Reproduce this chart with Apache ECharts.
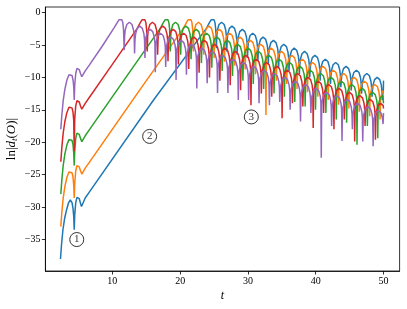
<!DOCTYPE html>
<html><head><meta charset="utf-8">
<script src="https://cdn.jsdelivr.net/npm/echarts@6/dist/echarts.min.js"></script>
<style>html,body{margin:0;padding:0;background:#fff}#c{width:407px;height:309px}</style>
</head><body><div id="c"></div>
<script>
// ---- data ----
const xTicks = [10, 20, 30, 40, 50];
const yTicks = [-35, -30, -25, -20, -15, -10, -5, 0];
const seriesNames = ['blue', 'orange', 'green', 'red', 'purple'];

// early part (t <= first saturation peak), [t, ln|d|]
const purplePre = [[2.4,-18.0],[2.55,-15.8],[2.75,-13.6],[3.0,-11.8],[3.3,-10.4],[3.6,-9.6],[3.85,-9.4],[4.05,-9.7],[4.2,-10.4],[4.3,-11.4],[4.38,-13.5],[4.45,-11.2],[4.6,-9.4],[4.78,-8.6],[4.95,-8.5],[5.12,-8.8],[5.3,-9.4],[5.5,-9.9],[5.7,-9.7],[6.0,-9.0],[6.6,-8.1],[8.5,-5.2],[10.3,-2.3],[10.7,-1.6],[11.0,-1.1],[11.2,-0.95],[11.4,-1.1],[11.55,-1.6],[11.65,-2.6]];
const redPre = [[2.4,-23.0],[2.55,-20.8],[2.75,-18.6],[3.0,-16.8],[3.3,-15.4],[3.6,-14.6],[3.85,-14.4],[4.05,-14.7],[4.2,-15.4],[4.3,-16.6],[4.38,-21.4],[4.45,-16.4],[4.6,-14.4],[4.78,-13.6],[4.95,-13.5],[5.12,-13.8],[5.3,-14.4],[5.5,-14.9],[5.7,-14.7],[6.0,-14.0],[6.6,-13.1],[10.0,-8.0],[13.7,-2.4],[14.1,-1.6],[14.4,-1.1],[14.6,-0.95],[14.8,-1.1],[14.95,-1.6],[15.05,-2.6]];
const greenPre = [[2.4,-28.0],[2.55,-25.8],[2.75,-23.6],[3.0,-21.8],[3.3,-20.4],[3.6,-19.6],[3.85,-19.4],[4.05,-19.7],[4.2,-20.4],[4.3,-21.6],[4.38,-23.6],[4.45,-21.4],[4.6,-19.4],[4.78,-18.6],[4.95,-18.5],[5.12,-18.8],[5.3,-19.4],[5.5,-19.9],[5.7,-19.7],[6.0,-19.0],[6.6,-18.1],[12.0,-10.0],[17.1,-2.4],[17.5,-1.6],[17.8,-1.1],[18.0,-0.95],[18.2,-1.1],[18.35,-1.6],[18.45,-2.6]];
const orangePre = [[2.4,-33.0],[2.55,-30.8],[2.75,-28.6],[3.0,-26.8],[3.3,-25.4],[3.6,-24.6],[3.85,-24.4],[4.05,-24.7],[4.2,-25.4],[4.3,-26.6],[4.38,-28.6],[4.45,-26.4],[4.6,-24.4],[4.78,-23.6],[4.95,-23.5],[5.12,-23.8],[5.3,-24.4],[5.5,-24.9],[5.7,-24.7],[6.0,-24.0],[6.6,-23.1],[14.0,-12.0],[20.5,-2.4],[20.9,-1.6],[21.2,-1.1],[21.4,-0.95],[21.6,-1.1],[21.75,-1.6],[21.85,-2.6]];
const bluePre = [[2.35,-38.0],[2.5,-35.8],[2.7,-33.6],[2.95,-31.8],[3.25,-30.4],[3.55,-29.3],[3.8,-28.9],[4.05,-29.3],[4.2,-30.2],[4.3,-31.4],[4.38,-33.5],[4.45,-31.2],[4.6,-29.3],[4.78,-28.5],[4.95,-28.4],[5.12,-28.7],[5.3,-29.4],[5.45,-29.9],[5.65,-29.6],[6.0,-28.6],[6.6,-27.7],[16.0,-13.6],[23.9,-2.4],[24.3,-1.6],[24.6,-1.1],[24.8,-0.95],[25.0,-1.1],[25.15,-1.6],[25.25,-2.6]];

// oscillating part: dip times, dip bottoms, arc tops (one per arc after each dip), value at t = 50
const purpleDipT = [11.75,13.28,14.81,16.34,17.87,19.40,20.93,22.46,23.99,25.52,27.05,28.58,30.11,31.64,33.17,34.70,36.23,37.76,39.29,40.82,42.35,43.88,45.41,46.94,48.47];
const purpleDipY = [-5.8,-6.3,-7.0,-9.2,-8.4,-10.4,-9.6,-11.7,-10.9,-12.4,-12.4,-13.5,-13.5,-14.0,-14.3,-13.8,-15.0,-16.8,-15.5,-22.4,-17.5,-19.8,-18.0,-19.9,-20.6];
const purpleTop  = [-1.5,-2.1,-2.6,-3.2,-3.8,-4.3,-4.9,-5.5,-6.0,-6.6,-7.2,-7.7,-8.3,-8.9,-9.4,-10.0,-10.6,-11.1,-11.7,-12.3,-12.8,-13.4,-14.0,-14.5,-15.1];
const purpleEnd = -15.5;

const redDipT = [15.15,16.68,18.21,19.74,21.27,22.80,24.33,25.86,27.39,28.92,30.45,31.98,33.51,35.04,36.57,38.10,39.63,41.16,42.69,44.22,45.75,47.28,48.81];
const redDipY = [-6.0,-6.5,-7.5,-8.0,-8.7,-9.3,-10.0,-10.5,-11.2,-12.0,-14.3,-12.5,-13.0,-16.3,-14.0,-14.5,-17.8,-15.5,-18.0,-16.5,-19.9,-17.5,-19.6];
const redTop  = [-1.5,-2.1,-2.6,-3.2,-3.8,-4.3,-4.9,-5.5,-6.0,-6.6,-7.2,-7.7,-8.3,-8.9,-9.4,-10.0,-10.6,-11.1,-11.7,-12.3,-12.8,-13.4,-14.0];
const redEnd = -14.8;

const greenDipT = [18.55,20.08,21.61,23.14,24.67,26.20,27.73,29.26,30.79,32.32,33.85,35.38,36.91,38.44,39.97,41.50,43.03,44.56,46.09,47.62,49.15];
const greenDipY = [-6.0,-6.5,-7.2,-7.8,-8.5,-9.0,-9.8,-10.5,-11.0,-11.8,-12.5,-13.0,-13.8,-14.5,-15.0,-15.5,-16.5,-17.0,-20.4,-17.5,-19.4];
const greenTop  = [-1.5,-2.1,-2.6,-3.2,-3.8,-4.3,-4.9,-5.5,-6.0,-6.6,-7.2,-7.7,-8.3,-8.9,-9.4,-10.0,-10.6,-11.1,-11.7,-12.3,-12.8];
const greenEnd = -14.0;

const orangeDipT = [21.95,23.48,25.01,26.54,28.07,29.60,31.13,32.66,34.19,35.72,37.25,38.78,40.31,41.84,43.37,44.90,46.43,47.96,49.49];
const orangeDipY = [-6.0,-6.5,-7.0,-7.6,-8.2,-8.8,-9.5,-15.8,-10.5,-11.0,-11.8,-12.3,-13.0,-13.5,-14.2,-14.8,-15.3,-16.0,-16.5];
const orangeTop  = [-1.5,-2.1,-2.6,-3.2,-3.8,-4.3,-4.9,-5.5,-6.0,-6.6,-7.2,-7.7,-8.3,-8.9,-9.4,-10.0,-10.6,-11.1,-11.7];
const orangeEnd = -12.3;

const blueDipT = [25.35,26.88,28.41,29.94,31.47,33.00,34.53,36.06,37.59,39.12,40.65,42.18,43.71,45.24,46.77,48.30,49.83];
const blueDipY = [-5.5,-6.0,-6.5,-7.0,-7.5,-8.0,-8.5,-9.0,-9.5,-10.0,-10.5,-11.0,-11.5,-12.0,-12.5,-13.0,-13.5];
const blueTop  = [-1.5,-2.1,-2.6,-3.2,-3.8,-4.3,-4.9,-5.5,-6.0,-6.6,-7.2,-7.7,-8.3,-8.9,-9.4,-10.0,-10.6];
const blueEnd = -10.5;

// annotation markers
const marks = [[4.75,-35.0,'1'],[15.5,-19.1,'2'],[30.5,-16.1,'3']];

// ---- drawing helpers (arc shape between two dips) ----
const ARC_F = [0.04, 0.1, 0.25, 0.5, 0.75, 0.9, 0.96];
const ARC_D = [-2.1, -1.2, -0.35, 0, -0.35, -1.2, -2.1];
const T_END = 50;

function build(pre, dipT, dipY, top, endY) {
  const pts = pre.map(p => [p[0], p[1]]);
  for (let i = 0; i < dipT.length; i++) {
    pts.push([dipT[i], dipY[i]]);
    const a = dipT[i];
    const w = (i + 1 < dipT.length) ? dipT[i + 1] - a : dipT[i] - dipT[i - 1];
    for (let j = 0; j < ARC_F.length; j++) {
      const t = a + ARC_F[j] * w;
      if (t >= T_END) break;
      pts.push([t, top[i] + ARC_D[j]]);
    }
  }
  pts.push([T_END, endY]);
  return pts;
}

const curves = {
  blue:   build(bluePre, blueDipT, blueDipY, blueTop, blueEnd),
  orange: build(orangePre, orangeDipT, orangeDipY, orangeTop, orangeEnd),
  green:  build(greenPre, greenDipT, greenDipY, greenTop, greenEnd),
  red:    build(redPre, redDipT, redDipY, redTop, redEnd),
  purple: build(purplePre, purpleDipT, purpleDipY, purpleTop, purpleEnd)
};
const colors = { blue:'#1f77b4', orange:'#ff7f0e', green:'#2ca02c', red:'#d62728', purple:'#9467bd' };

const FONT = "'Liberation Serif','DejaVu Serif',serif";
const fmt = v => (v < 0 ? '\u2212' + Math.abs(v) : String(v));

const chart = echarts.init(document.getElementById('c'), null, { renderer: 'canvas' });
const series = seriesNames.map(n => ({
  type: 'line', name: n, data: curves[n], showSymbol: false, symbol: 'none',
  lineStyle: { color: colors[n], width: 1.5 }, animation: false, z: 2, clip: true
}));
series.push({
  type: 'scatter', data: marks.map(m => [m[0], m[1], m[2]]), symbol: 'circle', symbolSize: 14,
  itemStyle: { color: '#fff', borderColor: '#000', borderWidth: 1 },
  label: { show: true, position: 'inside', formatter: p => p.data[2], color: '#000', fontFamily: FONT, fontSize: 11 },
  z: 5, animation: false
});

chart.setOption({
  animation: false,
  backgroundColor: '#fff',
  grid: { left: 45.4, right: 7.4, top: 7, bottom: 38, containLabel: false, outerBoundsMode: 'none',
          show: true, borderColor: '#000', borderWidth: 0.8, backgroundColor: 'transparent' },
  xAxis: {
    type: 'value', min: 0.125, max: 52.375,
    name: 't', nameLocation: 'middle', nameGap: 19, nameMoveOverlap: false,
    nameTextStyle: { fontFamily: FONT, fontStyle: 'italic', fontSize: 12, color: '#000' },
    axisLine: { show: true, onZero: false, lineStyle: { color: '#000', width: 0.8 } },
    axisTick: { show: true, inside: false, length: 3.5, lineStyle: { color: '#000', width: 0.8 }, customValues: xTicks },
    axisLabel: { show: true, margin: 5, fontFamily: FONT, fontSize: 10, color: '#000', customValues: xTicks, formatter: fmt },
    splitLine: { show: false }
  },
  yAxis: {
    type: 'value', min: -39.85, max: 0.85,
    name: '{a|ln|}{b|d}{c|t}{a|(}{b|O}{a|)|}', nameLocation: 'middle', nameGap: 26, nameRotate: 90, nameMoveOverlap: false,
    nameTextStyle: { lineHeight: 16, rich: {
      a: { fontFamily: FONT, fontSize: 13, lineHeight: 16, color: '#000' },
      b: { fontFamily: FONT, fontSize: 13, lineHeight: 16, fontStyle: 'italic', color: '#000' },
      c: { fontFamily: FONT, fontSize: 9, lineHeight: 16, fontStyle: 'italic', color: '#000', verticalAlign: 'bottom' }
    } },
    axisLine: { show: true, onZero: false, lineStyle: { color: '#000', width: 0.8 } },
    axisTick: { show: true, inside: false, length: 3.5, lineStyle: { color: '#000', width: 0.8 }, customValues: yTicks },
    axisLabel: { show: true, margin: 5, fontFamily: FONT, fontSize: 10, color: '#000', customValues: yTicks, formatter: fmt },
    splitLine: { show: false }
  },
  series
});
</script></body></html>
